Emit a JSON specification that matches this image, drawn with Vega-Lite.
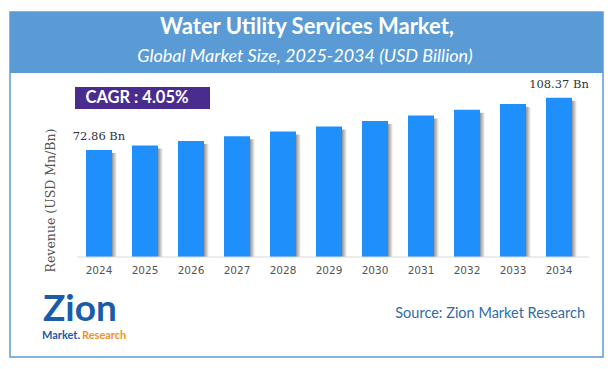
{
  "$schema": "https://vega.github.io/schema/vega-lite/v6.json",
  "width": 613,
  "height": 369,
  "autosize": {"type": "none"},
  "padding": 0,
  "background": "white",
  "config": {"view": {"stroke": null}},
  "layer": [
    {
      "data": {
        "values": [
          {"year": "2024", "value": 72.86, "label": "72.86 Bn"},
          {"year": "2025", "value": 75.81, "label": ""},
          {"year": "2026", "value": 78.88, "label": ""},
          {"year": "2027", "value": 82.08, "label": ""},
          {"year": "2028", "value": 85.40, "label": ""},
          {"year": "2029", "value": 88.86, "label": ""},
          {"year": "2030", "value": 92.46, "label": ""},
          {"year": "2031", "value": 96.20, "label": ""},
          {"year": "2032", "value": 100.10, "label": ""},
          {"year": "2033", "value": 104.15, "label": ""},
          {"year": "2034", "value": 108.37, "label": "108.37 Bn"}
        ]
      },
      "encoding": {
        "x": {
          "field": "year",
          "type": "ordinal",
          "scale": {"range": [63, 595], "paddingInner": 0.4348, "paddingOuter": 0.5},
          "axis": {
            "orient": "bottom",
            "offset": -112,
            "title": null,
            "domain": false,
            "ticks": false,
            "labelAngle": 0,
            "labelPadding": 8,
            "labelFont": "DejaVu Sans",
            "labelFontSize": 10.5,
            "labelColor": "#555555"
          }
        },
        "y": {
          "field": "value",
          "type": "quantitative",
          "scale": {"domain": [-76.19, 174.83], "nice": false, "zero": false},
          "axis": {
            "title": "Revenue (USD Mn/Bn)",
            "labels": false,
            "ticks": false,
            "domain": false,
            "grid": false,
            "titleX": 50,
            "titleY": 200,
            "titleAngle": -90,
            "titleAlign": "center",
            "titleBaseline": "middle",
            "titleFont": "DejaVu Serif",
            "titleFontSize": 12.5,
            "titleFontWeight": "normal",
            "titleColor": "#555555"
          }
        }
      },
      "layer": [
        {
          "mark": {
            "type": "bar",
            "xOffset": 5,
            "yOffset": 3,
            "fill": {
              "gradient": "linear",
              "x1": 0, "y1": 0, "x2": 1, "y2": 0,
              "stops": [
                {"offset": 0, "color": "#7f7f7f"},
                {"offset": 0.8, "color": "#8c8c8c"},
                {"offset": 1, "color": "#ffffff"}
              ]
            }
          },
          "encoding": {"y2": {"datum": 0}}
        },
        {
          "mark": {"type": "bar", "color": "#1f8ffb"},
          "encoding": {"y2": {"datum": 0}}
        },
        {
          "transform": [{"filter": "datum.label != ''"}],
          "mark": {"type": "text", "dy": -13, "font": "DejaVu Serif", "fontSize": 11.5, "color": "#333333"},
          "encoding": {"text": {"field": "label"}}
        }
      ]
    },
    {
      "data": {"values": [{"k": 1}]},
      "layer": [
        {
          "mark": {"type": "rect", "fill": "#5b9bd5"},
          "encoding": {
            "x": {"datum": 10, "type": "quantitative", "scale": {"domain": [0, 613], "nice": false, "zero": false}, "axis": null},
            "x2": {"datum": 603},
            "y": {"datum": 166.67, "type": "quantitative"},
            "y2": {"datum": 125.17}
          }
        },
        {
          "mark": {"type": "rect", "fill": null, "fillOpacity": 0, "stroke": "#5b9bd5", "strokeWidth": 1.5},
          "encoding": {
            "x": {"datum": 10, "type": "quantitative", "axis": null},
            "x2": {"datum": 603},
            "y": {"datum": 166.67, "type": "quantitative"},
            "y2": {"datum": -68.03}
          }
        },
        {
          "mark": {"type": "text", "font": "Lato", "fontWeight": "bold", "fontSize": 22, "color": "white", "align": "center", "baseline": "middle"},
          "encoding": {
            "x": {"datum": 307, "type": "quantitative", "axis": null},
            "y": {"datum": 156.46, "type": "quantitative"},
            "text": {"value": "Water Utility Services Market,"}
          }
        },
        {
          "mark": {"type": "text", "font": "Lato", "fontStyle": "italic", "fontSize": 18, "color": "white", "align": "center", "baseline": "middle"},
          "encoding": {
            "x": {"datum": 305, "type": "quantitative", "axis": null},
            "y": {"datum": 136.05, "type": "quantitative"},
            "text": {"value": "Global Market Size, 2025-2034 (USD Billion)"}
          }
        },
        {
          "mark": {"type": "rect", "fill": "#4a2c8f"},
          "encoding": {
            "x": {"datum": 75, "type": "quantitative", "axis": null},
            "x2": {"datum": 210},
            "y": {"datum": 115.65, "type": "quantitative"},
            "y2": {"datum": 100.68}
          }
        },
        {
          "mark": {"type": "text", "font": "Lato", "fontWeight": "bold", "fontSize": 16.5, "color": "white", "align": "center", "baseline": "middle"},
          "encoding": {
            "x": {"datum": 137, "type": "quantitative", "axis": null},
            "y": {"datum": 108.16, "type": "quantitative"},
            "text": {"value": "CAGR :  4.05%"}
          }
        },
        {
          "mark": {"type": "rule", "color": "#d9d9d9", "strokeWidth": 1},
          "encoding": {
            "x": {"datum": 77, "type": "quantitative", "axis": null},
            "x2": {"datum": 589},
            "y": {"datum": 0, "type": "quantitative"}
          }
        },
        {
          "mark": {"type": "text", "font": "Lato", "fontWeight": "bold", "fontSize": 37, "color": "#1a5ca8", "align": "left", "baseline": "alphabetic"},
          "encoding": {
            "x": {"datum": 43, "type": "quantitative", "axis": null},
            "y": {"datum": -43.54, "type": "quantitative"},
            "text": {"value": "Zion"}
          }
        },
        {
          "mark": {"type": "text", "font": "Lato", "fontWeight": "bold", "fontSize": 11, "color": "#1a5ca8", "align": "left", "baseline": "alphabetic"},
          "encoding": {
            "x": {"datum": 42, "type": "quantitative", "axis": null},
            "y": {"datum": -55.78, "type": "quantitative"},
            "text": {"value": "Market."}
          }
        },
        {
          "mark": {"type": "text", "font": "Lato", "fontWeight": "bold", "fontSize": 11, "color": "#f0921e", "align": "left", "baseline": "alphabetic"},
          "encoding": {
            "x": {"datum": 82, "type": "quantitative", "axis": null},
            "y": {"datum": -55.78, "type": "quantitative"},
            "text": {"value": "Research"}
          }
        },
        {
          "mark": {"type": "text", "font": "Lato", "fontSize": 14.5, "color": "#2f6ca6", "align": "right", "baseline": "middle"},
          "encoding": {
            "x": {"datum": 585, "type": "quantitative", "axis": null},
            "y": {"datum": -38.78, "type": "quantitative"},
            "text": {"value": "Source: Zion Market Research"}
          }
        }
      ]
    }
  ],
  "resolve": {"scale": {"x": "independent"}, "axis": {"x": "independent"}}
}
